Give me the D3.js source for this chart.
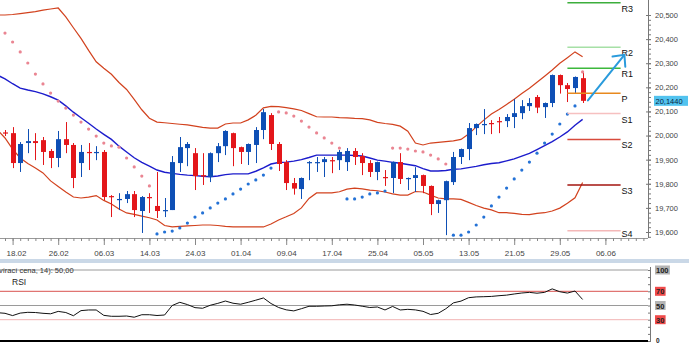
<!DOCTYPE html>
<html><head><meta charset="utf-8">
<script src="https://cdn.jsdelivr.net/npm/d3@7"></script>
<style>
body{margin:0;background:#fff}
svg{display:block}
text{font-family:"Liberation Sans",Arial,sans-serif}
</style>
</head><body>
<svg id="c" width="689" height="344"></svg>
<script>
// ---------- DATA (USD/CZK daily) ----------
const tickBars   = [1,7,13,19,25,31,37,43,49,55,61,67,73,79];
const tickLabels = ["18.02","26.02","06.03","14.03","24.03","01.04","09.04","17.04","25.04","05.05","13.05","21.05","29.05","06.06"];
const open  = [20.013,20.010,19.886,19.969,19.977,19.981,19.936,19.907,19.985,19.961,19.886,19.932,19.927,19.932,19.749,19.732,19.737,19.757,19.687,19.745,19.708,19.689,19.691,19.886,19.948,19.927,19.836,19.828,19.927,19.956,20.010,19.952,19.932,19.961,20.023,20.085,19.965,19.890,19.803,19.778,19.888,19.888,19.890,19.898,19.898,19.890,19.936,19.915,19.886,19.849,19.828,19.824,19.890,19.822,19.824,19.836,19.791,19.716,19.732,19.807,19.911,19.944,20.031,20.046,20.052,20.060,20.060,20.077,20.093,20.122,20.160,20.118,20.135,20.251,20.209,20.197,20.238];
const high  = [20.023,20.035,19.973,20.027,20.010,19.994,19.944,20.019,20.056,19.969,19.961,19.969,19.956,19.940,19.753,19.761,19.770,19.770,19.749,19.761,19.849,19.741,19.915,19.994,19.973,19.948,19.927,19.930,19.969,20.022,20.012,19.954,19.967,20.035,20.110,20.093,19.973,19.898,19.824,19.826,19.894,19.911,19.911,19.911,19.940,19.948,19.948,19.927,19.898,19.892,19.857,19.892,19.927,19.826,19.869,19.838,19.793,19.734,19.813,19.932,19.946,20.052,20.050,20.110,20.064,20.077,20.089,20.151,20.147,20.155,20.168,20.137,20.253,20.253,20.218,20.245,20.263];
const low   = [19.998,19.865,19.849,19.927,19.898,19.878,19.865,19.869,19.927,19.782,19.828,19.857,19.898,19.732,19.662,19.691,19.720,19.662,19.596,19.679,19.658,19.662,19.691,19.849,19.873,19.774,19.795,19.807,19.890,19.919,19.873,19.882,19.878,19.886,19.985,19.940,19.853,19.774,19.755,19.737,19.815,19.849,19.828,19.844,19.857,19.853,19.878,19.836,19.828,19.815,19.791,19.761,19.799,19.774,19.766,19.761,19.670,19.679,19.587,19.795,19.882,19.898,20.002,20.006,20.006,20.010,20.035,20.031,20.068,20.102,20.093,20.073,20.118,20.174,20.139,20.176,20.135];
const close = [20.009,19.886,19.965,19.977,19.969,19.932,19.907,19.985,19.961,19.824,19.932,19.927,19.932,19.745,19.745,19.737,19.757,19.691,19.745,19.741,19.687,19.691,19.890,19.952,19.965,19.832,19.830,19.927,19.956,20.019,19.948,19.932,19.965,20.023,20.097,19.965,19.882,19.803,19.780,19.824,19.890,19.890,19.902,19.894,19.932,19.936,19.911,19.886,19.849,19.890,19.824,19.890,19.820,19.824,19.836,19.791,19.716,19.732,19.811,19.911,19.944,20.031,20.048,20.048,20.048,20.056,20.077,20.093,20.122,20.135,20.116,20.135,20.251,20.209,20.193,20.243,20.144];
// Bollinger bands & RSI: first value belongs to the bar before the first visible candle
const bbUpper  = [20.500,20.500,20.502,20.506,20.510,20.514,20.520,20.525,20.529,20.492,20.447,20.403,20.353,20.306,20.279,20.254,20.220,20.191,20.150,20.107,20.072,20.056,20.053,20.050,20.047,20.044,20.039,20.034,20.031,20.031,20.048,20.052,20.052,20.065,20.084,20.115,20.121,20.120,20.116,20.111,20.104,20.091,20.078,20.077,20.077,20.074,20.073,20.071,20.070,20.065,20.055,20.050,20.046,20.039,20.018,19.969,19.961,19.969,19.972,19.975,19.978,19.984,20.006,20.036,20.064,20.089,20.108,20.129,20.151,20.174,20.196,20.221,20.246,20.272,20.300,20.323,20.347,20.327];
const bbMiddle = [20.251,20.235,20.215,20.197,20.189,20.182,20.173,20.161,20.147,20.123,20.097,20.074,20.051,20.027,20.005,19.984,19.956,19.932,19.908,19.889,19.873,19.857,19.848,19.843,19.839,19.836,19.834,19.831,19.829,19.832,19.838,19.841,19.841,19.841,19.852,19.866,19.882,19.888,19.890,19.894,19.900,19.909,19.919,19.919,19.919,19.919,19.919,19.917,19.915,19.907,19.898,19.894,19.889,19.885,19.880,19.875,19.863,19.853,19.853,19.855,19.860,19.862,19.867,19.872,19.879,19.884,19.887,19.895,19.903,19.915,19.926,19.942,19.958,19.975,19.994,20.015,20.043,20.067];
const bbLower  = [20.023,19.990,19.944,19.907,19.884,19.865,19.845,19.812,19.789,19.766,19.745,19.741,19.745,19.751,19.731,19.716,19.695,19.679,19.673,19.666,19.659,19.650,19.627,19.621,19.623,19.625,19.627,19.629,19.629,19.627,19.623,19.621,19.621,19.621,19.621,19.621,19.633,19.650,19.663,19.677,19.700,19.739,19.762,19.762,19.762,19.767,19.778,19.782,19.779,19.774,19.771,19.766,19.758,19.753,19.753,19.768,19.766,19.753,19.741,19.737,19.737,19.735,19.723,19.710,19.699,19.692,19.680,19.680,19.677,19.673,19.672,19.677,19.680,19.687,19.699,19.719,19.742,19.805];
const rsi      = [39.9,39.0,35.8,39.3,40.4,40.1,39.0,38.3,41.7,40.1,35.6,42.8,43.7,43.7,36.1,34.8,34.8,35.2,33.5,37.0,37.0,35.9,36.6,50.0,54.5,51.3,47.0,46.1,50.3,53.0,56.3,53.2,51.8,54.5,57.5,60.6,52.8,47.2,43.9,42.4,45.5,48.9,48.9,49.3,49.6,51.0,51.8,50.7,49.0,47.2,47.9,43.7,48.7,43.7,44.6,43.8,41.8,37.3,39.0,45.4,53.7,56.2,61.0,62.1,62.4,62.8,63.8,64.6,66.2,67.6,68.5,67.3,68.5,73.4,69.4,67.5,70.4,58.5];
const sar = [20.425,20.388,20.347,20.301,20.255,20.214,20.176,20.143,20.114,20.085,20.056,20.027,19.998,19.969,19.957,19.952,19.907,19.870,19.832,19.791,
  19.592,19.600,19.604,19.617,19.637,19.662,19.679,19.700,19.720,19.737,19.758,19.778,19.799,19.816,19.836,19.865,
  20.098,20.094,20.081,20.060,20.035,20.011,19.990,19.969,19.948,
  19.737,19.737,19.745,19.758,19.762,19.770,
  19.948,19.948,19.944,19.936,19.932,19.919,19.903,19.882,
  19.587,19.587,19.600,19.629,19.662,19.708,19.745,19.782,19.820,19.857,19.890,19.927,19.969,20.006,20.048,20.089,20.123,
  20.264];
const pivotNames  = ["R3","R2","R1","P","S1","S2","S3","S4"];
const pivotValues = [20.551,20.366,20.279,20.175,20.091,19.984,19.795,19.605];
const pivotFrom = 74, pivotTo = 81;
const lastPrice = 20.1440;
const arrowStart = [76.7, 20.146], arrowEnd = [81.5, 20.335];
const rsiLevels = [100,70,50,30,0];
const rsiHeader = "vírací cena, 14): 50,00";

// ---------- STYLES ----------
const pivotColors = ["#3cae3c","#a6e0a6","#3cb83c","#e8891e","#f6c0c0","#d84a3c","#a3140f","#f4b8b8"];
const UP="#0e4fb5", DOWN="#e3161a";

// ---------- SCALES ----------
const svg = d3.select("#c");
const x  = d3.scaleLinear().domain([0,85]).range([5,651]);
const y  = d3.scaleLinear().domain([19.6,20.5]).range([232,15]);
const yr = d3.scaleLinear().domain([0,100]).range([341,270]);
const plotR = 648, plotB = 238;
const fmt3 = d => d3.format(".3f")(d).replace(".",",");

const defs = svg.append("defs");
defs.append("clipPath").attr("id","cm").append("rect").attr("x",0).attr("y",0).attr("width",plotR).attr("height",plotB);
defs.append("clipPath").attr("id","cr").append("rect").attr("x",0).attr("y",262).attr("width",plotR).attr("height",82);

const main = svg.append("g").attr("clip-path","url(#cm)");
const lineOff = d3.line().x((d,i)=>x(i-1)).y(d=>y(d));

// Bollinger bands
main.append("path").attr("d",lineOff(bbUpper)).attr("fill","none").attr("stroke","#d2421e").attr("stroke-width",1.2);
main.append("path").attr("d",lineOff(bbLower)).attr("fill","none").attr("stroke","#d2421e").attr("stroke-width",1.2);
main.append("path").attr("d",lineOff(bbMiddle)).attr("fill","none").attr("stroke","#1c1ccc").attr("stroke-width",1.4);

// candles
const cg = main.append("g");
open.forEach((o,i)=>{
  const c = close[i], up = c>o, col = up?UP:DOWN;
  const cx = Math.round(x(i))+0.5;
  cg.append("line").attr("x1",cx).attr("x2",cx).attr("y1",y(high[i])).attr("y2",y(low[i])).attr("stroke",col).attr("stroke-width",1);
  const t = y(Math.max(o,c)), b = y(Math.min(o,c));
  cg.append("rect").attr("x",cx-2.5).attr("y",t).attr("width",5).attr("height",Math.max(1.2,b-t)).attr("fill",col);
});

// parabolic SAR
main.append("g").selectAll("circle").data(sar).join("circle")
  .attr("cx",(d,i)=>x(i)).attr("cy",d=>y(d)).attr("r",1.6)
  .attr("fill",(d,i)=> d>close[i] ? "#ea8592" : "#2472d6");

// pivot lines
pivotValues.forEach((v,k)=>{
  svg.append("line").attr("x1",x(pivotFrom)).attr("x2",x(pivotTo)).attr("y1",y(v)).attr("y2",y(v))
    .attr("stroke",pivotColors[k]).attr("stroke-width",1.5);
  svg.append("text").attr("x",x(pivotTo)+1).attr("y",Math.min(y(v)+9,237)).text(pivotNames[k])
    .attr("font-size",9).attr("fill","#111");
});

// trend arrow
{
  const x1=x(arrowStart[0]), y1=y(arrowStart[1]), x2=x(arrowEnd[0]), y2=y(arrowEnd[1]);
  const a = Math.atan2(y1-y2, x1-x2), L=12;
  const g = svg.append("g").attr("stroke","#2a9bdc").attr("stroke-width",2).attr("fill","none").attr("stroke-linecap","round");
  g.append("line").attr("x1",x1).attr("y1",y1).attr("x2",x2).attr("y2",y2);
  g.append("path").attr("d",`M${x2+L*Math.cos(a+0.75)},${y2+L*Math.sin(a+0.75)}L${x2},${y2}L${x2+L*Math.cos(a-0.75)},${y2+L*Math.sin(a-0.75)}`);
}

// right price axis
svg.append("line").attr("x1",plotR+0.5).attr("x2",plotR+0.5).attr("y1",0).attr("y2",plotB).attr("stroke","#777");
const yMinor = d3.axisRight(y).tickValues(d3.range(0,46).map(k=>19.58+k*0.02)).tickSize(3).tickFormat("");
const gyMin = svg.append("g").attr("transform",`translate(${plotR},0)`).call(yMinor);
const yMajor = d3.axisRight(y).tickValues(d3.range(0,10).map(k=>19.6+k*0.1)).tickSize(5).tickPadding(4).tickFormat(fmt3);
const gy = svg.append("g").attr("transform",`translate(${plotR-2},0)`).call(yMajor);
[gyMin,gy].forEach(g=>{g.select(".domain").remove(); g.selectAll("line").attr("stroke","#777");});
gy.selectAll("text").attr("font-size",7.5).attr("fill","#444").attr("font-family","Liberation Sans, Arial");

// last price box
svg.append("rect").attr("x",654).attr("y",y(lastPrice)-5).attr("width",34).attr("height",10).attr("fill","#52c3ef");
svg.append("text").attr("x",655.5).attr("y",y(lastPrice)+3).text(d3.format(".4f")(lastPrice).replace(".",","))
  .attr("font-size",7.5).attr("fill","#0b2540");

// bottom time axis
svg.append("line").attr("x1",0).attr("x2",plotR).attr("y1",plotB+0.5).attr("y2",plotB+0.5).attr("stroke","#999");
const xMinor = d3.axisBottom(x).tickValues(d3.range(0,85)).tickSize(3).tickFormat("");
const gxm = svg.append("g").attr("transform",`translate(0,${plotB})`).call(xMinor);
const xMajor = d3.axisBottom(x).tickValues(tickBars).tickSize(7).tickFormat((d,i)=>tickLabels[i]);
const gx = svg.append("g").attr("transform",`translate(0,${plotB})`).call(xMajor);
[gxm,gx].forEach(g=>{g.select(".domain").remove(); g.selectAll("line").attr("stroke","#888");});
gx.selectAll("text").attr("font-size",8).attr("fill","#444").attr("y",12).attr("dy","0.71em")
  .attr("font-family","Liberation Sans, Arial")
  .attr("x",(d)=> Math.max(0, 16 - x(d)));

// separator between panels
svg.append("rect").attr("x",0).attr("y",259).attr("width",689).attr("height",4).attr("fill","#cad8e7");

// RSI panel
const rsiColors = {100:"#9a9a9a",70:"#d9534f",50:"#9a9a9a",30:"#f2b3b3",0:"#000"};
rsiLevels.forEach(v=>{
  svg.append("line").attr("x1",0).attr("x2",plotR).attr("y1",yr(v)).attr("y2",yr(v))
    .attr("stroke",rsiColors[v]).attr("stroke-width",v===0?2:1);
});
svg.append("g").attr("clip-path","url(#cr)").append("path")
  .attr("d",d3.line().x((d,i)=>x(i-1)).y(d=>yr(d))(rsi))
  .attr("fill","none").attr("stroke","#111").attr("stroke-width",1);
svg.append("text").attr("x",-1).attr("y",273).text(rsiHeader).attr("font-size",7.5).attr("fill","#333");
svg.append("text").attr("x",12).attr("y",285).text("RSI").attr("font-size",8.5).attr("fill","#222");

// RSI axis
svg.append("line").attr("x1",650.5).attr("x2",650.5).attr("y1",267).attr("y2",341).attr("stroke","#777");
const rMinor = d3.axisLeft(yr).tickValues(d3.range(0,101,10)).tickSize(3).tickFormat("");
const grm = svg.append("g").attr("transform","translate(651,0)").call(rMinor);
grm.select(".domain").remove(); grm.selectAll("line").attr("stroke","#777");
const boxCol = {100:"#b4b4b4",70:"#ef4a4a",50:"#b4b4b4",30:"#ef4a4a"};
rsiLevels.forEach(v=>{
  const w = String(v).length*4.3+2;
  const ty = Math.min(yr(v)+3, 343);
  if (boxCol[v]) svg.append("rect").attr("x",655).attr("y",yr(v)-4.5).attr("width",w).attr("height",9).attr("fill",boxCol[v]);
  svg.append("text").attr("x",656).attr("y",ty).text(v).attr("font-size",v===0?6.5:7.5).attr("font-weight","bold").attr("fill","#222");
});
</script>
</body></html>
